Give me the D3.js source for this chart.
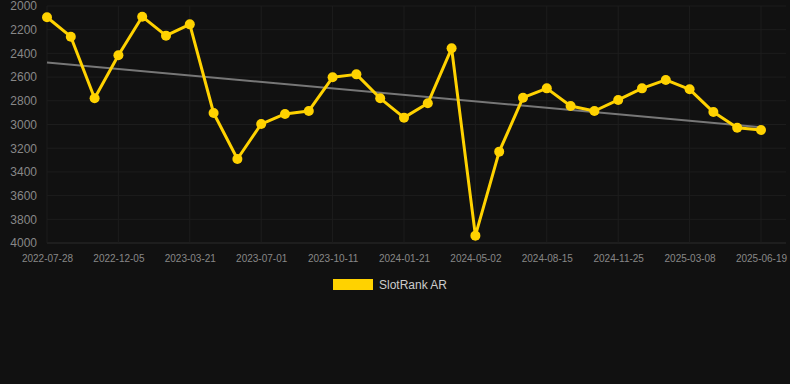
<!DOCTYPE html>
<html>
<head>
<meta charset="utf-8">
<script src="https://cdn.jsdelivr.net/npm/d3@7"></script>
<style>
  html, body { margin: 0; padding: 0; background: #111111; }
  svg { display: block; font-family: "Liberation Sans", Arial, sans-serif; }
</style>
</head>
<body>
<svg id="chart" width="790" height="384"></svg>
<script>
// one entry per point, every third one is shown on the axis
const dates = [
  '2022-07-28', '2022-09-10', '2022-10-23',
  '2022-12-05', '2023-01-10', '2023-02-14',
  '2023-03-21', '2023-04-24', '2023-05-28',
  '2023-07-01', '2023-08-04', '2023-09-07',
  '2023-10-11', '2023-11-14', '2023-12-18',
  '2024-01-21', '2024-02-24', '2024-03-29',
  '2024-05-02', '2024-06-05', '2024-07-10',
  '2024-08-15', '2024-09-18', '2024-10-22',
  '2024-11-25', '2024-12-29', '2025-02-01',
  '2025-03-08', '2025-04-11', '2025-05-15',
  '2025-06-19'
];
const rankValues = [
  2095, 2259, 2779, 2416, 2090, 2250, 2155, 2903, 3291, 2996,
  2911, 2886, 2602, 2577, 2779, 2942, 2821, 2357, 3938, 3229,
  2774, 2695, 2844, 2886, 2793, 2695, 2624, 2703, 2895, 3027,
  3046
];
const yTicks = [2000, 2200, 2400, 2600, 2800, 3000, 3200, 3400, 3600, 3800, 4000];
const seriesName = 'SlotRank AR';

const svg = d3.select('#chart');
const plotLeft = 47, plotRight = 761, plotTop = 6, plotBottom = 243;

const x = d3.scalePoint().domain(dates).range([plotLeft, plotRight]);
const y = d3.scaleLinear().domain([2000, 4000]).range([plotTop, plotBottom]);

// grid
const grid = svg.append('g');
grid.selectAll('.hg')
  .data(yTicks)
  .enter()
  .append('line')
  .attr('x1', plotLeft)
  .attr('x2', 786)
  .attr('y1', d => y(d))
  .attr('y2', d => y(d))
  .attr('stroke', d => d === 4000 ? '#2c2c2c' : '#1d1d1d')
  .attr('stroke-width', 1);

const shownDates = dates.filter((d, i) => i % 3 === 0);
grid.selectAll('.vg')
  .data(shownDates)
  .enter()
  .append('line')
  .attr('x1', d => x(d))
  .attr('x2', d => x(d))
  .attr('y1', plotTop)
  .attr('y2', plotBottom)
  .attr('stroke', '#1d1d1d')
  .attr('stroke-width', 1);

// axes
const yAxis = svg.append('g')
  .attr('transform', 'translate(37,0)')
  .call(d3.axisLeft(y).tickValues(yTicks).tickFormat(d3.format('d')).tickSize(0).tickPadding(0));
yAxis.select('.domain').remove();
yAxis.selectAll('text')
  .attr('fill', '#888')
  .attr('font-size', 12)
  .attr('font-family', '"Liberation Sans", Arial, sans-serif');

const xAxis = svg.append('g')
  .attr('transform', 'translate(0,' + plotBottom + ')')
  .call(d3.axisBottom(x).tickValues(shownDates).tickSize(0).tickPadding(12));
xAxis.select('.domain').remove();
xAxis.selectAll('text')
  .attr('fill', '#888')
  .attr('font-size', 10)
  .attr('font-family', '"Liberation Sans", Arial, sans-serif');

// trend line (least squares over the points)
const idx = d3.range(rankValues.length);
const mx = d3.mean(idx), my = d3.mean(rankValues);
const slope = d3.sum(idx, i => (i - mx) * (rankValues[i] - my)) /
  d3.sum(idx, i => (i - mx) * (i - mx));
const icpt = my - slope * mx;
svg.append('line')
  .attr('x1', x(dates[0]))
  .attr('y1', y(icpt))
  .attr('x2', x(dates[dates.length - 1]))
  .attr('y2', y(icpt + slope * (dates.length - 1)))
  .attr('stroke', '#777')
  .attr('stroke-width', 2);

// series
const line = d3.line()
  .x((d, i) => x(dates[i]))
  .y(d => y(d));
svg.append('path')
  .datum(rankValues)
  .attr('d', line)
  .attr('fill', 'none')
  .attr('stroke', '#FFD200')
  .attr('stroke-width', 3)
  .attr('stroke-linejoin', 'round');

svg.append('g')
  .selectAll('circle')
  .data(rankValues)
  .enter()
  .append('circle')
  .attr('cx', (d, i) => x(dates[i]))
  .attr('cy', d => y(d))
  .attr('r', 5)
  .attr('fill', '#FFD200');

// legend
const legend = svg.append('g');
legend.append('rect')
  .attr('x', 333)
  .attr('y', 279)
  .attr('width', 40)
  .attr('height', 11)
  .attr('fill', '#FFD200');
legend.append('text')
  .attr('x', 379)
  .attr('y', 289)
  .attr('fill', '#ccc')
  .attr('font-size', 12)
  .text(seriesName);
</script>
</body>
</html>
